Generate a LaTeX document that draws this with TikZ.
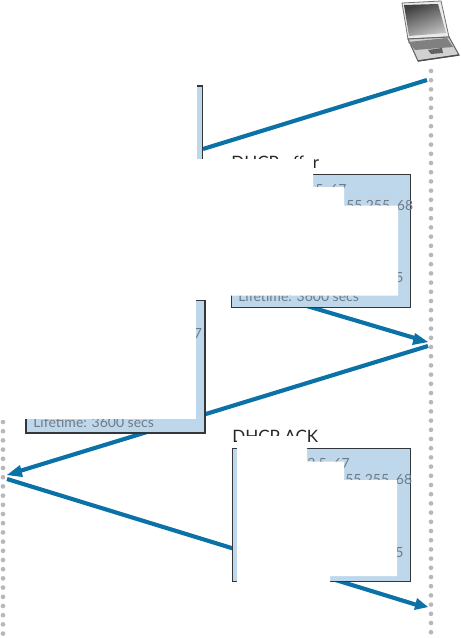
\documentclass[tikz,border=0pt]{standalone}
\usepackage{fontspec}
\setmainfont{Lato}
\definecolor{boxblue}{HTML}{BFD7EA}
\definecolor{arrowblue}{HTML}{0B72A8}
\definecolor{dotgray}{HTML}{B8B8B8}
\definecolor{edge}{HTML}{33363B}
\definecolor{txt}{HTML}{6E7C88}
\tikzset{
 px/.style={x=0.75pt,y=-0.75pt},
 msgbox/.style={fill=boxblue,draw=edge,line width=0.85pt},
 mask/.style={fill=white,draw=none},
 flow/.style={draw=arrowblue,line width=3.1pt},
 tip/.style={fill=arrowblue,draw=none},
 dotline/.style={draw=dotgray,line width=3.5pt,line cap=round,dash pattern=on 0pt off 6.9pt},
 boxtext/.style={font=\fontsize{10.5}{13}\selectfont,text=txt,inner sep=0pt,anchor=base west},
 title/.style={font=\fontsize{12.8}{16}\selectfont,text=black!85,inner sep=0pt,anchor=base west}
}
\begin{document}
\begin{tikzpicture}[px]
\useasboundingbox (0,0) rectangle (460,638);
% timelines
\coordinate (rtop) at (431,71); \coordinate (rbot) at (431,636);
\coordinate (ltop) at (3,422); \coordinate (lbot) at (3,636);
\draw[dotline] (rtop) -- (rbot);
\draw[dotline] (ltop) -- (lbot);
% laptop
\draw[black!55,line width=.6pt,fill=black!8] (402,3) -- (441,1) -- (449,37) -- (408,39) -- cycle;
\shade[left color=black!75,right color=black!25,shading angle=20] (404,5) -- (438,4) -- (446,33) -- (409,36) -- cycle;
\draw[black!60,line width=.8pt,fill=black!18] (408,39) -- (449,37) -- (459,55) -- (418,61) -- cycle;
\fill[black!50] (408,42) -- (447,38) -- (453,47) -- (415,50) -- cycle;
\fill[black!62] (428,50) -- (442,48) -- (443,53) -- (431,54) -- cycle;
\draw[black!70,line width=1pt] (418,61) -- (459,55);
% arrows that pass under the boxes
\coordinate (a1) at (427,80); \coordinate (a2) at (203,149);
\draw[flow] (a1) -- (a2);
\coordinate (b1) at (280,298); \coordinate (b2) at (418,339);
\draw[flow] (b1) -- (b2);
\fill[tip] (428,342) -- (415,333) -- (412,345) -- cycle;
\coordinate (d1) at (7,479); \coordinate (d2) at (417,605);
\draw[flow] (d1) -- (d2);
\fill[tip] (428,607) -- (417,598) -- (414,610) -- cycle;
% box 1 fragment
\fill[boxblue] (197,86) rectangle (202,159);
\draw[edge,line width=.85pt] (197,86) -- (202.5,86) -- (202.5,159);
% box 2
\node[msgbox,minimum width=134.25pt,minimum height=99.75pt,inner sep=0pt,anchor=north west] (offer) at (231,174) {};
\node[boxtext] (o1) at (315,194) {5, 67};
\node[boxtext] (o2) at (346,210) {55.255, 68};
\node[boxtext] (o3) at (395,282) {5};
\node[boxtext] (o4) at (238,301) {Lifetime: 3600 secs};
\node[title] (ot) at (231,168) {DHCP offer};
\fill[mask] (190,159) -- (313,159) -- (313,187) -- (344,187) -- (344,205.5) -- (398,205.5) -- (398,295.5) -- (225,295.5) -- (225,300) -- (190,300) -- cycle;
\fill[mask] (0,160) rectangle (231,420);
% arrow from the right timeline to the left one
\coordinate (c1) at (428,346); \coordinate (c2) at (18,471.5);
\draw[flow] (c1) -- (c2);
\fill[tip] (7,475) -- (20,465) -- (23,477) -- cycle;
% box 3
\fill[boxblue] (26,419) rectangle (205,433);
\fill[boxblue] (196,300) rectangle (205,433);
\draw[edge,line width=.85pt] (196,300.5) -- (205,300.5) -- (205,433) -- (26,433) -- (26,418);
\node[boxtext] (d7) at (193.5,338) {7};
\node[boxtext] (d4) at (33,427) {Lifetime: 3600 secs};
\fill[mask] (0,300) rectangle (196,418.5);
% box 4
\node[msgbox,minimum width=133.5pt,minimum height=99.75pt,inner sep=0pt,anchor=north west] (ack) at (232,448) {};
\node[boxtext] (k1) at (307,468) {2.5, 67};
\node[boxtext] (k2) at (345,484) {55.255, 68};
\node[boxtext] (k3) at (395,557) {5};
\node[title] (kt) at (232,442.5) {DHCP ACK};
\fill[mask] (237,436) -- (307,436) -- (307,461.5) -- (344,461.5) -- (344,480) -- (397,480) -- (397,576) -- (330,576) -- (330,600) -- (237,600) -- cycle;
\end{tikzpicture}
\end{document}
